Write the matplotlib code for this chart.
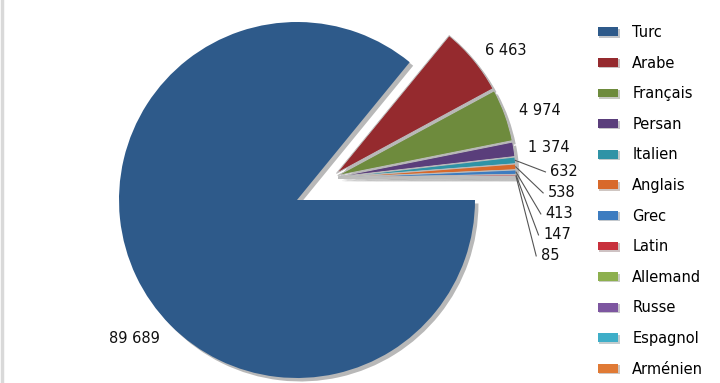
import numpy as np
import matplotlib
matplotlib.use("Agg")
import matplotlib.pyplot as plt
import matplotlib.patheffects as pe

# Languages and word counts
languages = ["Turc", "Arabe", "Français", "Persan", "Italien", "Anglais", "Grec",
             "Latin", "Allemand", "Russe", "Espagnol", "Arménien"]
counts = [89689, 6463, 4974, 1374, 632, 538, 413, 147, 85, 40, 25, 15]
value_labels = ["89 689", "6 463", "4 974", "1 374", "632", "538", "413", "147", "85", "", "", ""]
colors = ["#2e5a8a", "#952a2e", "#6e8b3d", "#5a3e7b", "#2f93a6", "#d8692b", "#3d7cc0",
          "#c8303c", "#8db04e", "#7d56a0", "#3eaec8", "#e07a35"]

W, H, DPI = 720, 383, 100
R_PX = 178.0
CX, CY = 297.0, 200.0  # pie centre in pixels (from top-left)

fig = plt.figure(figsize=(W / DPI, H / DPI), dpi=DPI)
fig.patch.set_facecolor("white")
ax = fig.add_axes([0, 0, 1, 1])

explode = [0.0] + [0.04] * (len(counts) - 1)
wedges, _ = ax.pie(counts, colors=colors, startangle=0, counterclock=False, radius=1.0,
                   explode=explode,
                   wedgeprops=dict(edgecolor="#bdbdbd", linewidth=0.7))
# pie() resets limits/aspect, so set them afterwards
ax.set_aspect("auto")
ax.set_xlim(-CX / R_PX, (W - CX) / R_PX)
ax.set_ylim(-(H - CY) / R_PX, CY / R_PX)
ax.axis("off")

shadow = [pe.SimplePatchShadow(offset=(2.5, -2.5), shadow_rgbFace="black", alpha=0.28),
          pe.Normal()]

# the small slices are also pulled out together as a group
group_shift = (0.191, 0.124)
for w in wedges:
    w.set_path_effects(shadow)
wedges[0].set_edgecolor("none")
for w in wedges[1:]:
    cx, cy = w.center
    w.set_center((cx + group_shift[0], cy + group_shift[1]))


def mid(w):
    return np.deg2rad((w.theta1 + w.theta2) / 2)


fs = 10.5
# Turc label
tm = mid(wedges[0]) + np.deg2rad(15)
ax.text(1.2 * np.cos(tm), 1.2 * np.sin(tm), value_labels[0], ha="center", va="center",
        fontsize=fs, color="#111111")

# big exploded slices
for i in range(1, 4):
    a = mid(wedges[i])
    cx, cy = wedges[i].center
    ax.text(cx + 1.08 * np.cos(a), cy + 1.08 * np.sin(a), value_labels[i],
            ha="left", va="center", fontsize=fs, color="#111111")

# small slices with leader lines
step = 0.118
bx, by = wedges[4].center
k = 0
for i in range(4, len(counts)):
    if not value_labels[i]:
        continue
    a = mid(wedges[i])
    cx, cy = wedges[i].center
    ty = by + 0.03 - k * step
    tx = bx + 1.19 - 0.013 * k
    ax.plot([cx + np.cos(a), tx - 0.025], [cy + np.sin(a), ty], color="#555555", lw=0.8)
    ax.text(tx, ty, value_labels[i], ha="left", va="center", fontsize=fs, color="#111111")
    k += 1

leg = ax.legend(wedges, languages, loc="upper left", bbox_to_anchor=(598 / W, 1 - 25 / H),
                bbox_transform=fig.transFigure, frameon=False, fontsize=fs,
                handlelength=1.4, handleheight=0.55, handletextpad=0.95,
                labelspacing=1.07, borderpad=0, borderaxespad=0)
for h in leg.legend_handles:
    h.set_path_effects([pe.SimplePatchShadow(offset=(1, -1), alpha=0.25), pe.Normal()])
    h.set_edgecolor("none")

# thin grey border at the left edge
fig.add_artist(plt.Line2D([1.5 / W, 1.5 / W], [0, 1], transform=fig.transFigure,
                          color="#d9d9d9", lw=2.5))

fig.savefig("out.png", dpi=DPI)
